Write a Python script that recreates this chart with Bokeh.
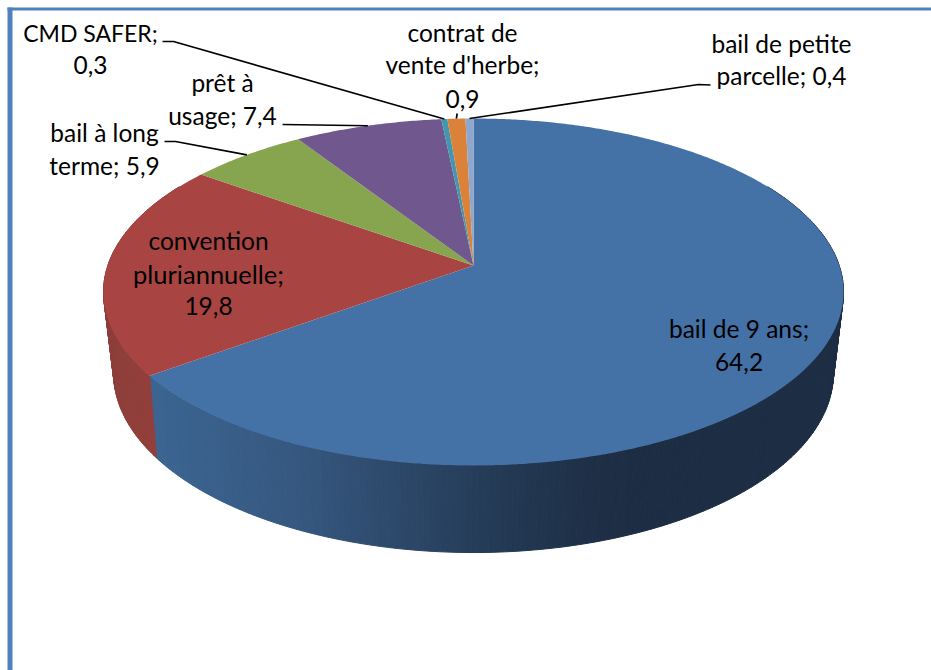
import numpy as np
from bokeh.core.properties import value
from bokeh.embed import file_html
from bokeh.models import ColumnDataSource, Range1d
from bokeh.plotting import figure
from bokeh.resources import INLINE

# Tenure categories and their stated shares
categories = ["bail de 9 ans", "convention pluriannuelle", "bail à long terme", "prêt à usage",
              "CMD SAFER", "contrat de vente d'herbe", "bail de petite parcelle"]
shares = [64.2, 19.8, 5.9, 7.4, 0.3, 0.9, 0.4]
top_colors = ["#4471A6", "#A84543", "#87A44F", "#70578D", "#3F98AF", "#DB823A", "#8FA6CD"]

# Each label: its lines, centre x, baseline y of each line, per-line font size
label_lines = [
    (["bail de 9 ans;", "64,2"], 738.5, [337, 370], ["24.5px", "24.5px"]),
    (["convention", "pluriannuelle;", "19,8"], 208, [249, 282, 314], ["24.5px", "25.5px", "24.5px"]),
    (["bail à long", "terme; 5,9"], 104, [141, 174], ["24.5px", "24.5px"]),
    (["prêt à", "usage; 7,4"], 222, [91, 124], ["24.5px", "24.5px"]),
    (["CMD SAFER;", "0,3"], 90, [41, 73], ["23px", "24.5px"]),
    (["contrat de", "vente d'herbe;", "0,9"], 462, [41, 73, 107], ["24.5px", "24.5px", "24.5px"]),
    (["bail de petite", "parcelle; 0,4"], 781, [52, 84], ["24.5px", "24.5px"]),
]

# Leader elbows for the outer labels, keyed by category index
leader_elbows = {
    2: [(164, 141), (175, 141)],
    3: [(282, 124)],
    4: [(162, 41), (173, 41)],
    5: [(456.7, 113)],
    6: [(710, 84.5), (698, 84)],
}

# Perspective disc for the upper face and for the lower rim
CX = 473
TOP = dict(apex=265.0, a=365.7, b=169.4, k=0.1525)
BOTTOM = dict(apex=342.7, a=355.0, b=174.8, k=0.165)


def project(theta, disc):
    """Clockwise angle from twelve o'clock to page coordinates on a tilted disc."""
    X, Y = np.sin(theta), np.cos(theta)
    w = 1 + disc["k"] * Y
    return CX + disc["a"] * X / w, disc["apex"] - disc["b"] * Y / w


total = sum(shares)
edges = np.concatenate([[0.0], np.cumsum(shares)]) / total * 2 * np.pi

p = figure(width=931, height=670, output_backend="svg", toolbar_location=None,
           x_range=Range1d(0, 931), y_range=Range1d(670, 0), min_border=0)
p.axis.visible = False
p.grid.visible = False
p.outline_line_color = None
p.background_fill_color = "white"
p.border_fill_color = "white"

# Frame on the top and left of the page
p.quad(left=[7, 7], right=[931, 12], top=[7, 7], bottom=[10, 670],
       fill_color="#4F81BD", line_color=None)

# Rim of the pie as narrow shaded strips, front half only
grad_x = [150, 300, 400, 500, 600, 650]
grad_r = [60, 54, 45, 36, 30, 28]
grad_g = [101, 88, 72, 58, 47, 45]
grad_b = [146, 128, 105, 85, 70, 68]


def rim_color(x, i):
    if i == 0:
        r, g, b = (np.interp(x, grad_x, c) for c in (grad_r, grad_g, grad_b))
    else:
        r, g, b = np.interp(x, [105, 155], [142, 148]), 62, 58
    return "#%02x%02x%02x" % (int(r), int(g), int(b))


xs, ys, cols = [], [], []
for i in range(2):
    lo, hi = edges[i], edges[i + 1]
    lo = max(lo, np.radians(60))
    hi = min(hi, np.radians(300))
    steps = np.linspace(lo, hi, int((hi - lo) / np.radians(0.8)) + 2)
    for a0, a1 in zip(steps[:-1], steps[1:]):
        tx, ty = project(np.array([a0, a1]), TOP)
        bx, by = project(np.array([a1, a0]), BOTTOM)
        xs.append(list(tx) + list(bx))
        ys.append(list(ty) + list(by))
        cols.append(rim_color(float(tx.mean()), i))
p.patches(xs, ys, fill_color=cols, line_color=cols, line_width=1)

# Upper face, one wedge per category
apex_x, apex_y = CX, TOP["apex"]
wedge_x, wedge_y = [], []
for i in range(len(shares)):
    th = np.linspace(edges[i], edges[i + 1], max(3, int((edges[i + 1] - edges[i]) / np.radians(0.5))))
    x, y = project(th, TOP)
    wedge_x.append([apex_x] + list(x))
    wedge_y.append([apex_y] + list(y))
p.patches(wedge_x, wedge_y, fill_color=top_colors, line_color=None)

# Leader lines run from the label elbow to the middle of the wedge's outer edge
for i, elbow in leader_elbows.items():
    ax, ay = project((edges[i] + edges[i + 1]) / 2, TOP)
    pts = elbow + [(float(ax), float(ay))]
    p.line([q[0] for q in pts], [q[1] for q in pts], line_color="#000000", line_width=1.7)

# Labels, one text item per line
tx, ty, tt, fs = [], [], [], []
for lines, cx, baselines, sizes in label_lines:
    for line, base, size in zip(lines, baselines, sizes):
        tx.append(cx)
        ty.append(base)
        tt.append(line)
        fs.append(size)
p.text(x="x", y="y", text="t", source=ColumnDataSource(dict(x=tx, y=ty, t=tt, fs=fs)),
       text_font=value("Lato"), text_font_size="fs", text_color="#000000",
       text_align="center", text_baseline="alphabetic", y_offset=-9)

open("out.html", "w").write(file_html(p, INLINE))
